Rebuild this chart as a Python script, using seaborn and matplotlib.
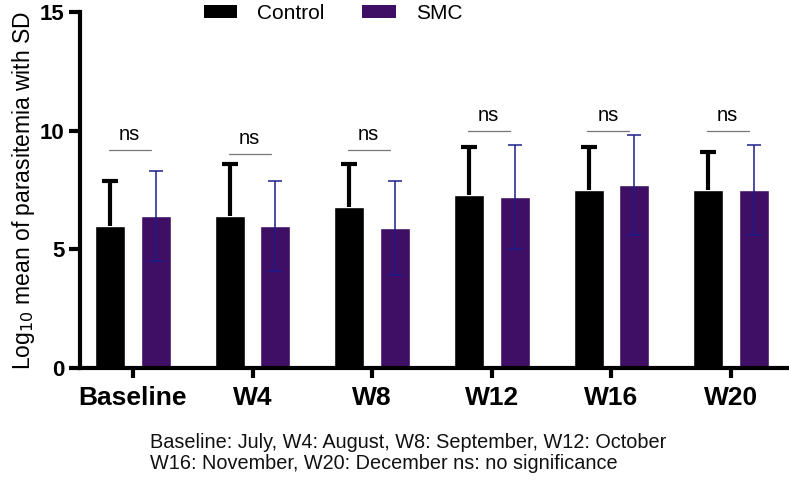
import numpy as np
import pandas as pd
import seaborn as sns
import matplotlib.pyplot as plt
from matplotlib.patches import Patch

# values
weeks = ['Baseline', 'W4', 'W8', 'W12', 'W16', 'W20']
control_mean = [6.0, 6.4, 6.8, 7.3, 7.5, 7.5]
control_sd = [1.9, 2.2, 1.8, 2.0, 1.8, 1.6]
smc_mean = [6.4, 6.0, 5.9, 7.2, 7.7, 7.5]
smc_sd = [1.9, 1.9, 2.0, 2.2, 2.1, 1.9]
ns_level = [9.2, 9.0, 9.2, 10.0, 10.0, 10.0]

groups = ['Control', 'SMC']
colors = {'Control': '#000000', 'SMC': '#3f0f66'}

df = pd.DataFrame({
    'week': weeks * 2,
    'group': ['Control'] * len(weeks) + ['SMC'] * len(weeks),
    'mean': control_mean + smc_mean,
})

sns.set_style('ticks', {'axes.edgecolor': 'black', 'text.color': 'black',
                        'xtick.color': 'black', 'ytick.color': 'black',
                        'axes.labelcolor': 'black'})
plt.rcParams['font.family'] = ['Liberation Sans', 'DejaVu Sans']

fig = plt.figure(figsize=(7.89, 4.98), dpi=100)
ax = fig.add_axes([80 / 789, 130 / 498, 707 / 789, 356 / 498])

sns.barplot(data=df, x='week', y='mean', hue='group', order=weeks,
            hue_order=groups, palette=colors, width=0.76, gap=0.34,
            errorbar=None, saturation=1, legend=False, ax=ax)

# SD error bars: Control only upward (black), SMC both ways (navy)
ctrl_bars, smc_bars = ax.containers[0], ax.containers[1]
cx = [p.get_x() + p.get_width() / 2 for p in ctrl_bars]
ch = [p.get_height() for p in ctrl_bars]
sx = [p.get_x() + p.get_width() / 2 for p in smc_bars]
sh = [p.get_height() for p in smc_bars]
_, ccaps, _ = ax.errorbar(cx, ch, yerr=[np.zeros(len(cx)), control_sd], fmt='none',
                          ecolor='black', elinewidth=3, capsize=5.5, capthick=3)
ccaps[0].set_visible(False)  # no cap on the lower (zero) side
ax.errorbar(sx, sh, yerr=smc_sd, fmt='none', ecolor='#1c1c8c',
            elinewidth=1.1, capsize=5, capthick=1.1)

# "ns" comparison lines
for i, lvl in enumerate(ns_level):
    ax.plot([i - 0.2, i + 0.15], [lvl, lvl], color='#777777', lw=0.9)
    ax.text(i - 0.03, lvl + 0.25, 'ns', ha='center', va='bottom', fontsize=14.5)

ax.set_ylim(0, 15)
ax.set_yticks([0, 5, 10, 15])
ax.set_xlim(-0.443, 5.468)
ax.set_xlabel('')
ax.set_ylabel('Log$_{10}$ mean of parasitemia with SD', fontsize=16.5, labelpad=2)
sns.despine(ax=ax)
for s in ['left', 'bottom']:
    ax.spines[s].set_linewidth(3)
ax.tick_params(axis='y', length=8, width=3, labelsize=16, pad=3)
ax.tick_params(axis='x', length=7, width=3, labelsize=19, pad=6)
for lab in ax.get_xticklabels() + ax.get_yticklabels():
    lab.set_fontweight('bold')

handles = [Patch(facecolor=colors[g], edgecolor='none') for g in groups]
fig.legend(handles, groups, loc='center', bbox_to_anchor=(0.422, 0.973),
           ncol=2, frameon=False, fontsize=15, handlelength=1.63,
           handleheight=0.63, handletextpad=0.95, columnspacing=1.8)

fig.text(150 / 789, 1 - 442 / 498, 'Baseline: July, W4: August, W8: September, W12: October',
         ha='left', va='center', fontsize=14.3, color='#111111')
fig.text(150 / 789, 1 - 463 / 498, 'W16: November, W20: December ns: no significance',
         ha='left', va='center', fontsize=14.3, color='#111111')

fig.savefig('out.png', dpi=100)
